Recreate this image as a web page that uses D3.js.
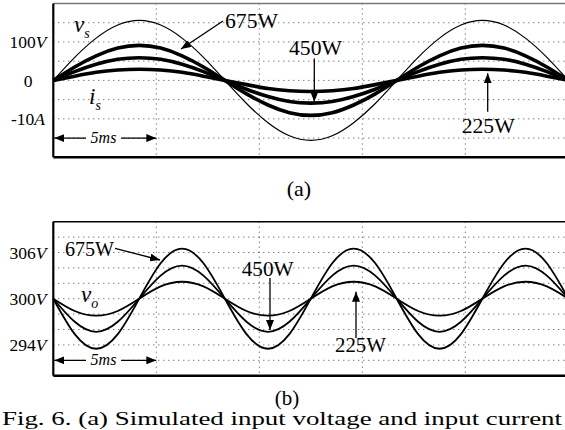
<!DOCTYPE html>
<html><head><meta charset="utf-8">
<script src="https://cdn.jsdelivr.net/npm/d3@7"></script>
<style>
html,body{margin:0;padding:0;background:#fff;}
svg{display:block;}
svg text{font-family:'Liberation Serif','Times New Roman',Times,serif;}
</style></head>
<body><svg id="c" width="565" height="430"></svg>
<script>
// ---- data (time in ms) ----
const tMs = [0,1.04,2.08,3.13,4.17,5.21,6.25,7.29,8.33,9.38,10.42,11.46,12.5,13.54,14.58,15.63,16.67,17.71,18.75,19.79,20.83,21.88,22.92,23.96,25];
// (a) input voltage [V] and input currents [A]
const vs   = [0,60,110,144,156,144,110,60,0,-60,-110,-144,-156,-144,-110,-60,0,60,110,144,156,144,110,60,0];
const i675 = [0,3.5,6.4,8.4,9.1,8.4,6.4,3.5,0,-3.5,-6.4,-8.4,-9.1,-8.4,-6.4,-3.5,0,3.5,6.4,8.4,9.1,8.4,6.4,3.5,0];
const i450 = [0,2.3,4.2,5.5,5.9,5.5,4.2,2.3,0,-2.3,-4.2,-5.5,-5.9,-5.5,-4.2,-2.3,0,2.3,4.2,5.5,5.9,5.5,4.2,2.3,0];
const i225 = [0,1.1,2.1,2.7,2.9,2.7,2.1,1.1,0,-1.1,-2.1,-2.7,-2.9,-2.7,-2.1,-1.1,0,1.1,2.1,2.7,2.9,2.7,2.1,1.1,0];
// (b) output voltage [V]
const vo675 = [300,295.4,293.5,295.4,300,304.6,306.5,304.6,300,295.4,293.5,295.4,300,304.6,306.5,304.6,300,295.4,293.5,295.4,300,304.6,306.5,304.6,300];
const vo450 = [300,297.0,295.7,297.0,300,303.0,304.3,303.0,300,297.0,295.7,297.0,300,303.0,304.3,303.0,300,297.0,295.7,297.0,300,303.0,304.3,303.0,300];
const vo225 = [300,298.4,297.8,298.4,300,301.6,302.2,301.6,300,298.4,297.8,298.4,300,301.6,302.2,301.6,300,298.4,297.8,298.4,300,301.6,302.2,301.6,300];
// grid / tick labels
const xGrid = [5,10,15,20];
const aGridV = [-150,-100,-50,0,50,100,150];
const aTickPos = [100,0,-100];
const aTickNum = ["100","0","-10"];
const aTickUnit = ["V","","A"];
const bGridV = [292,294,296,298,300,302,304,306,308];
const bTickPos = [306,300,294];
const bTickNum = ["306","300","294"];
const bTickUnit = ["V","V","V"];
const powerLabels = ["675W","450W","225W"];

// ---- layout ----
const FONT = "'Liberation Serif','Times New Roman',Times,serif";
const svg = d3.select("#c").attr("font-family",FONT);
svg.append("rect").attr("width",565).attr("height",430).attr("fill","#fff");
const L = 53.3, R = 568.3;
const x = d3.scaleLinear().domain([0,25]).range([L,R]);
const aTop = 3.5, aBot = 157.3, bTop = 221.7, bBot = 375.7;
const yV = d3.scaleLinear().domain([-200,200]).range([aBot,aTop]);
const yI = d3.scaleLinear().domain([-20,20]).range([aBot,aTop]);
const yO = d3.scaleLinear().domain([290,310]).range([bBot,bTop]);

const defs = svg.append("defs");
defs.append("marker").attr("id","ah").attr("viewBox","0 0 10 8")
  .attr("refX",10).attr("refY",4).attr("markerWidth",10).attr("markerHeight",8)
  .attr("markerUnits","userSpaceOnUse").attr("orient","auto-start-reverse")
  .append("path").attr("d","M0,0L10,4L0,8Z").attr("fill","#000");

function grid(yScale, vals, top, bot){
  const g = svg.append("g").attr("stroke","#444").attr("stroke-width",1).attr("stroke-dasharray","1,4");
  vals.forEach(v=>g.append("line").attr("x1",L).attr("x2",R).attr("y1",yScale(v)).attr("y2",yScale(v)));
  xGrid.forEach(t=>g.append("line").attr("x1",x(t)).attr("x2",x(t)).attr("y1",top).attr("y2",bot));
}
grid(yV, aGridV, aTop, aBot);
grid(yO, bGridV, bTop, bBot);

function frame(top, bot, topColor){
  svg.append("line").attr("x1",L).attr("x2",R+2).attr("y1",top).attr("y2",top).attr("stroke",topColor).attr("stroke-width",1.6);
  svg.append("line").attr("x1",L).attr("x2",R+2).attr("y1",bot).attr("y2",bot).attr("stroke","#000").attr("stroke-width",2.5);
  svg.append("line").attr("x1",L).attr("x2",L).attr("y1",top).attr("y2",bot).attr("stroke","#000").attr("stroke-width",2.2);
  svg.append("line").attr("x1",R).attr("x2",R).attr("y1",top).attr("y2",bot).attr("stroke","#000").attr("stroke-width",2);
}

function ticks(yScale, pos, num, unit){
  pos.forEach((p,i)=>{
    const t = svg.append("text").attr("x",28).attr("y",yScale(p)).attr("dy","0.35em")
      .attr("text-anchor","middle").attr("font-size",17.5).attr("fill","#000").attr("font-family",FONT);
    t.append("tspan").text(num[i]);
    if(unit[i]) t.append("tspan").attr("font-style","italic").text(unit[i]);
  });
}
ticks(yV, aTickPos, aTickNum, aTickUnit);
ticks(yO, bTickPos, bTickNum, bTickUnit);

// ---- curves ----
const lineA = (arr, ys) => d3.line().x((d,i)=>x(tMs[i])).y(d=>ys(d)).curve(d3.curveNatural)(arr);
svg.append("path").attr("d",lineA(vs,yV)).attr("fill","none").attr("stroke","#000").attr("stroke-width",1.2);
[i675,i450,i225].forEach(arr=>
  svg.append("path").attr("d",lineA(arr,yI)).attr("fill","none").attr("stroke","#000").attr("stroke-width",3.6));
[vo675,vo450,vo225].forEach(arr=>
  svg.append("path").attr("d",lineA(arr,yO)).attr("fill","none").attr("stroke","#000").attr("stroke-width",1.8));
frame(aTop, aBot, "#777");
frame(bTop, bBot, "#000");

// ---- annotations ----
function arrow(x1,y1,x2,y2,both){
  const l = svg.append("line").attr("x1",x1).attr("y1",y1).attr("x2",x2).attr("y2",y2)
    .attr("stroke","#000").attr("stroke-width",1.3).attr("marker-end","url(#ah)");
  if(both) l.attr("marker-start","url(#ah)");
}
function label(txt,xp,yp,len){
  svg.append("text").attr("x",xp).attr("y",yp).attr("font-size",20).attr("fill","#000").attr("font-family",FONT)
    .attr("textLength",len).attr("lengthAdjust","spacingAndGlyphs").text(txt);
}
function sym(main,sub,xp,yp){
  const t = svg.append("text").attr("x",xp).attr("y",yp).attr("font-style","italic").attr("fill","#000").attr("font-family",FONT);
  t.append("tspan").attr("font-size",23).text(main);
  t.append("tspan").attr("font-size",14).attr("dy",6).text(sub);
}
function fiveMs(yp){
  arrow(x(0)+1,yp,x(5),yp,true);
  svg.append("rect").attr("x",86).attr("y",yp-8).attr("width",35).attr("height",16).attr("fill","#fff");
  svg.append("text").attr("x",103.5).attr("y",yp+5).attr("text-anchor","middle").attr("font-size",16).attr("font-family",FONT)
    .attr("font-style","italic").attr("fill","#000").text("5ms");
}
// panel (a)
sym("v","s",74,32);
sym("i","s",89,104);
label(powerLabels[0],225,28,53); arrow(223,21,181,49);
label(powerLabels[1],289,55,53); arrow(314.3,58.5,314.3,101.7);
label(powerLabels[2],461.7,133.3,53); arrow(487.7,111.7,487.7,73.3);
fiveMs(yV(-150));
svg.append("text").attr("x",299).attr("y",196).attr("text-anchor","middle").attr("font-size",22).attr("font-family",FONT).text("(a)");
// panel (b)
sym("v","o",81,302);
label(powerLabels[0],65,255.5,49); arrow(115,248.3,160,260);
label(powerLabels[1],241.7,276,52); arrow(270,278,270,330);
label(powerLabels[2],335,351.7,51); arrow(356,338,356,291.7);
fiveMs(yO(292));
svg.append("text").attr("x",287).attr("y",405).attr("text-anchor","middle").attr("font-size",21).attr("font-family",FONT).text("(b)");
// caption (bottom edge of figure)
svg.append("text").attr("x",2).attr("y",425).attr("font-size",18).attr("font-family",FONT).attr("textLength",560)
  .attr("lengthAdjust","spacingAndGlyphs").text("Fig. 6. (a) Simulated input voltage and input current");
</script></body></html>
